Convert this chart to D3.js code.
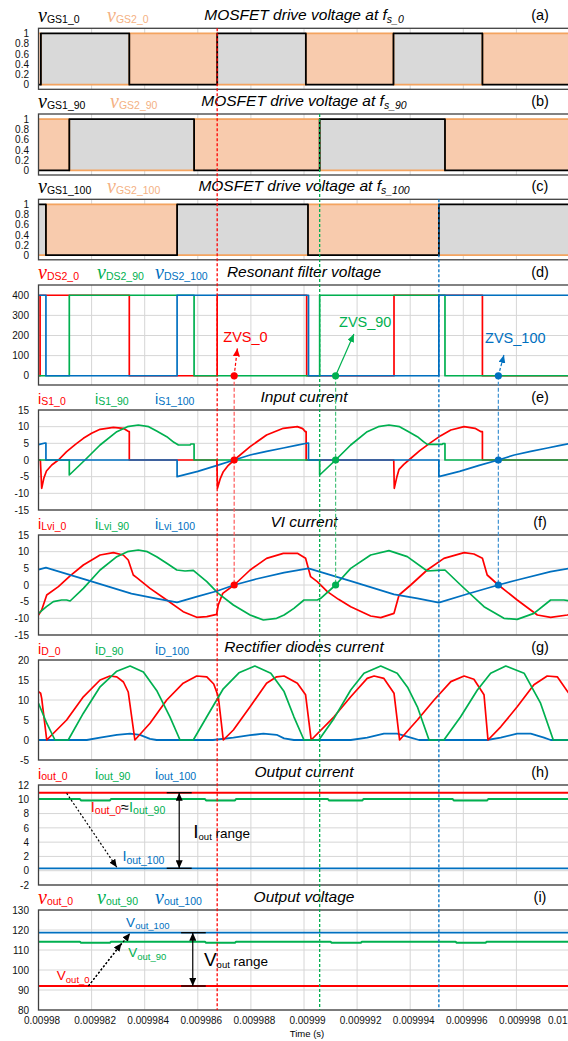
<!DOCTYPE html>
<html>
<head>
<meta charset="utf-8">
<script src="https://cdn.jsdelivr.net/npm/d3@7"></script>
<style>
  html, body { margin: 0; padding: 0; background: #fff; }
  svg { display: block; font-family: "Liberation Sans", Arial, sans-serif; }
</style>
</head>
<body>
<svg id="chart" width="568" height="1041"></svg>
<script>
// ---- time axis: microseconds after t = 0.00998 s ----
const xTicks = [0, 2, 4, 6, 8, 10, 12, 14, 16, 18, 20];
const xTickLabels = ["0.00998", "0.009982", "0.009984", "0.009986", "0.009988", "0.00999",
                     "0.009992", "0.009994", "0.009996", "0.009998", "0.01"];

// ---- y tick values per panel ----
const gateTicks = [0, 0.2, 0.4, 0.6, 0.8, 1];
const vdsTicks = [0, 100, 200, 300, 400];
const currentTicks = [-15, -10, -5, 0, 5, 10, 15];
const diodeTicks = [-5, 0, 5, 10, 15, 20];
const ioutTicks = [-2, 0, 2, 4, 6, 8, 10, 12];
const voutTicks = [80, 90, 100, 110, 120, 130];

// ---- (a)-(c) gate drive signals [t(us), V] ----
const vGS1_0 = [[0,0],[0.09,0],[0.09,1],[3.42,1],[3.42,0],[6.73,0],[6.73,1],[10.07,1],[10.07,0],[13.37,0],[13.37,1],[16.72,1],[16.72,0],[20,0]];
const vGS2_0 = [[0,1],[0.09,1],[0.09,0],[3.42,0],[3.42,1],[6.73,1],[6.73,0],[10.07,0],[10.07,1],[13.37,1],[13.37,0],[16.72,0],[16.72,1],[20,1]];
const vGS1_90 = [[0,0],[1.16,0],[1.16,1],[5.86,1],[5.86,0],[10.59,0],[10.59,1],[15.31,1],[15.31,0],[20,0]];
const vGS2_90 = [[0,1],[1.16,1],[1.16,0],[5.86,0],[5.86,1],[10.59,1],[10.59,0],[15.31,0],[15.31,1],[20,1]];
const vGS1_100 = [[0,1],[0.28,1],[0.28,0],[5.22,0],[5.22,1],[10.15,1],[10.15,0],[15.08,0],[15.08,1],[20,1]];
const vGS2_100 = [[0,0],[0.28,0],[0.28,1],[5.22,1],[5.22,0],[10.15,0],[10.15,1],[15.08,1],[15.08,0],[20,0]];

// ---- (d) resonant filter voltage ----
const vDS2_0 = [[0,0],[0.06,0],[0.06,400],[3.42,400],[3.42,0],[6.73,0],[6.73,400],[10.1,400],[10.1,0],[13.39,0],[13.39,400],[16.72,400],[16.72,0],[20,0]];
const vDS2_90 = [[0,0],[1.16,0],[1.16,400],[5.86,400],[5.86,0],[10.59,0],[10.59,400],[15.31,400],[15.31,0],[20,0]];
const vDS2_100 = [[0,400],[0.28,400],[0.28,0],[5.22,0],[5.22,400],[10.17,400],[10.17,0],[15.08,0],[15.08,400],[20,400]];

// ---- (e) input current ----
const iS1_0 = [[0,0],[0.07,0],[0.12,-8.5],[0.2,-5.5],[0.3,-3.3],[0.5,-1.5],[0.75,0],[1.06,2.5],[1.38,4.6],[1.69,6.5],[2.0,8.0],[2.32,9.2],[2.82,9.8],[3.19,9.5],[3.38,8.6],[3.42,8.5],[3.42,0],
  [6.72,0],[6.74,-8.5],[6.85,-5.5],[6.96,-3.5],[7.15,-1.6],[7.37,0],[7.97,4],[8.59,7.5],[9.22,9.5],[9.75,10],[9.95,9.4],[10.05,8.5],[10.08,8.5],[10.08,0],
  [13.38,0],[13.4,-8.5],[13.5,-5],[13.58,-2.8],[13.76,-1.3],[13.95,0],[14.36,2.8],[14.77,5.2],[15.15,7.3],[15.53,9],[16.03,10],[16.44,9.5],[16.67,8.5],[16.72,8.5],[16.72,0],[20,0]];
const iS1_90 = [[0,0],[1.16,0],[1.16,-4.5],[1.75,0],[2.32,4.5],[2.95,8.5],[3.35,10],[3.76,10.5],[4.15,10],[4.45,8.7],[4.83,7],[5.1,5.3],[5.27,4.5],[5.71,4.5],[5.74,4.8],[5.86,4.8],[5.86,0],
  [10.59,0],[10.59,-4.5],[11.19,0],[11.76,4.5],[12.38,8.5],[12.8,10],[13.2,10.5],[13.6,10],[13.89,8.7],[14.27,7],[14.5,5.5],[14.64,4.7],[15.2,4.7],[15.23,4.9],[15.31,4.9],[15.31,0],[20,0]];
const iS1_100 = [[0,4.6],[0.25,5.1],[0.28,5.1],[0.28,0],[5.22,0],[5.22,-5],[6.0,-3.4],[6.73,-1.6],[7.37,0],[7.97,1.5],[8.59,2.6],[9.22,3.6],[9.7,4.4],[10.15,5.1],[10.17,5.1],[10.17,0],
  [15.08,0],[15.08,-5],[15.86,-3.4],[16.6,-1.6],[17.32,0],[17.92,1.5],[18.54,2.6],[19.17,3.6],[19.65,4.4],[20,4.9]];

// ---- (f) VI current ----
const iLvi_0 = [[0,-9],[0.12,-7.5],[0.31,-3],[0.75,-0.5],[1.2,2.8],[1.69,6],[2.32,9],[2.82,9.7],[3.19,9],[3.38,7.5],[3.57,3],[3.7,2.2],[4.2,-1],[4.83,-4.5],[5.45,-8],[5.96,-9.7],[6.34,-9.5],[6.71,-8.8],[6.77,-6],[6.94,-2.5],
  [7.37,0],[7.97,4.5],[8.59,8],[9.22,9.5],[9.75,9.5],[10.06,8],[10.25,2.5],[10.5,1],[10.88,-2],[11.3,-4.3],[11.76,-6.5],[12.51,-9.3],[12.89,-9.8],[13.39,-8.5],[13.58,-3],
  [14.02,0],[14.64,4.5],[15.27,8],[16.03,9.7],[16.4,9.3],[16.72,8],[16.9,3],[17.32,0],[18.03,-4.5],[18.79,-9],[19.29,-9.7],[19.92,-9],[20,-8.8]];
const iLvi_90 = [[0,-8.5],[0.3,-6.5],[0.56,-5],[0.87,-4.5],[1.06,-4.5],[1.19,-4.8],[1.69,-1],[2.32,4.5],[2.95,8.5],[3.35,10],[3.76,10.5],[4.1,10],[4.45,8.5],[4.83,6.5],[5.21,4.5],[5.52,4.2],[5.83,4.4],
  [6.34,1],[6.77,-2.5],[7.34,-6],[7.97,-9],[8.47,-10.5],[8.97,-10],[9.25,-9],[9.62,-7],[10.0,-4.5],[10.5,-4.5],[10.63,-4],[11.19,0],[11.76,5],[12.51,9],[13.2,10.3],[13.89,8.5],
  [14.64,4.2],[15.0,4.4],[15.31,4.5],[15.9,0],[16.78,-6.5],[17.53,-10],[18.03,-10.3],[18.66,-8.5],[19.29,-4.5],[19.79,-4.5],[20,-4.8]];
const iLvi_100 = [[0,4.6],[0.28,5.2],[1.9,1.3],[3.5,-2.6],[4.4,-4.0],[5.22,-5.2],[6.0,-3.4],[6.73,-1.8],[7.37,0],[8.2,1.8],[9.25,3.7],[10.17,5.0],
  [11.8,1.1],[13.39,-2.8],[14.27,-4.0],[15.08,-5.3],[16.15,-2.7],[17.32,0],[18.03,1.5],[19.29,4.0],[20,5.0]];

// ---- (g) rectifier diode currents ----
const iD_0 = [[0,12.1],[0.08,11.7],[0.12,10.4],[0.31,0],[1.06,5],[1.69,10.8],[2.32,15],[2.69,16],[2.95,15.8],[3.2,14.5],[3.38,12],[3.63,0],[4.2,4.2],[4.83,10],[5.45,14.2],[5.96,16],[6.34,15.8],[6.6,14],[6.71,12],[6.77,11],
  [6.96,0],[7.34,2.5],[7.97,8.3],[8.59,14.2],[8.97,15.8],[9.25,16],[9.75,14.2],[10.06,11.3],[10.27,0],[11.13,5.8],[11.76,10.8],[12.38,15.4],[12.64,16],[13.01,15.4],[13.39,11.7],
  [13.6,0],[14.27,5],[14.9,10],[15.53,14.6],[16.03,16],[16.4,15.2],[16.78,11.3],[16.93,0],[17.41,3.3],[18.03,8.3],[18.66,13.8],[19.16,16],[19.54,15.8],[19.94,12],[20,11.5]];
const iD_90 = [[0,9.2],[0.31,4.2],[0.62,0],[1.12,0],[1.69,6.7],[2.32,13.3],[2.95,17.2],[3.45,18.5],[3.95,17],[4.45,12.4],[4.95,5.8],[5.33,0],
  [5.83,0],[6.4,6.5],[6.96,12.8],[7.55,16.8],[8.15,18.5],[8.75,16.7],[9.25,12.1],[9.62,5.8],[10.0,0],
  [10.56,0],[11.13,5.4],[11.76,12.5],[12.26,16.7],[12.89,18.5],[13.51,16.7],[13.9,13.2],[14.27,8.3],[14.71,0],
  [15.27,0],[15.9,5.8],[16.53,12.5],[17.03,16.7],[17.6,18.5],[18.29,16.7],[18.91,9.2],[19.39,0],[20,0]];
const iD_100 = [[0,0],[1.82,0],[2.32,0.6],[2.95,1.3],[3.45,1.6],[3.82,1.3],[4.2,0.3],[4.45,0],[6.57,0],[7.34,0.6],[7.97,1.2],[8.47,1.6],[8.97,1.3],[9.25,0.4],[9.62,0],
  [11.76,0],[12.38,0.6],[13.01,1.6],[13.51,1.6],[14.02,0.6],[14.33,0],[16.9,0],[17.41,0.6],[18.03,1.6],[18.54,1.6],[19.04,0.6],[19.29,0],[20,0]];

// ---- (h) output current ----
const iout_0 = [[0,10.92],[20,10.92]];
const iout_90 = [[0,10.04],[1.56,10.04],[1.6,9.84],[2.69,9.84],[2.73,10.04],[6.27,10.04],[6.31,9.84],[7.4,9.84],[7.44,10.04],[10.9,10.04],[10.94,9.84],[12.2,9.84],[12.24,10.04],
  [15.6,10.04],[15.64,9.84],[16.9,9.84],[16.94,10.04],[20,10.04]];
const iout_100 = [[0,0.34],[20,0.34]];

// ---- (i) output voltage ----
const vout_0 = [[0,92],[20,92]];
const vout_90 = [[0,114.15],[1.56,114.15],[1.6,113.65],[2.69,113.65],[2.73,114.15],[6.27,114.15],[6.31,113.65],[7.4,113.65],[7.44,114.15],[11.0,114.15],[11.04,113.65],[12.14,113.65],[12.18,114.15],
  [15.71,114.15],[15.75,113.65],[16.84,113.65],[16.88,114.15],[20,114.15]];
const vout_100 = [[0,118.65],[20,118.65]];

// ---- switching instants and ZVS points ----
const switchRef = { t0: 6.73, t90: 10.59, t100: 15.08 };
const zvsTimes = { zvs0: 7.37, zvs90: 11.19, zvs100: 17.32 };

// ---------------------------------------------------------------
const RED = "#ff0000", GREEN = "#00b050", BLUE = "#0070c0";
const ORANGE_TXT = "#f4b183", ORANGE_FILL = "#f8cbad", ORANGE_LINE = "#f4a460", GRAY_FILL = "#d9d9d9";
const SERIF = "'Liberation Serif','Times New Roman',serif";

const svg = d3.select("#chart");
const X0 = 38.5, X1 = 569.5;
const x = d3.scaleLinear().domain([0, 20]).range([X0, X1]);

const panels = {
  a: { top: 28.3, h: 61,   dom: [-0.09, 1.1], ticks: gateTicks },
  b: { top: 114,  h: 61,   dom: [-0.09, 1.1], ticks: gateTicks },
  c: { top: 199.3, h: 60.5, dom: [-0.09, 1.1], ticks: gateTicks },
  d: { top: 285,  h: 100,  dom: [-46, 451],   ticks: vdsTicks },
  e: { top: 410,  h: 100,  dom: [-15, 15],    ticks: currentTicks },
  f: { top: 535,  h: 100,  dom: [-15, 15],    ticks: currentTicks },
  g: { top: 660,  h: 100,  dom: [-5, 20],     ticks: diodeTicks },
  h: { top: 785,  h: 100,  dom: [-2, 12],     ticks: ioutTicks },
  i: { top: 910,  h: 100,  dom: [80, 130],    ticks: voutTicks }
};
Object.values(panels).forEach(p => {
  p.y = d3.scaleLinear().domain(p.dom).range([p.top + p.h, p.top]);
});

const defs = svg.append("defs");
function arrowMarker(id, color, len, wid) {
  defs.append("marker").attr("id", id)
    .attr("viewBox", "0 0 10 10").attr("refX", 10).attr("refY", 5)
    .attr("markerWidth", len).attr("markerHeight", wid)
    .attr("markerUnits", "userSpaceOnUse")
    .attr("orient", "auto-start-reverse")
    .attr("preserveAspectRatio", "none")
    .append("path").attr("d", "M0,0L10,5L0,10z").attr("fill", color);
}
arrowMarker("ah-black", "#000", 8, 7);
arrowMarker("ah-red", RED, 8, 7);
arrowMarker("ah-green", GREEN, 8, 7);
arrowMarker("ah-blue", BLUE, 8, 7);

// rich text with sub-scripts
function richText(parent, px, py, parts, opts = {}) {
  const t = parent.append("text").attr("x", px).attr("y", py)
    .attr("text-anchor", opts.anchor || "start");
  if (opts.italic) t.attr("font-style", "italic");
  parts.forEach(p => {
    const s = t.append("tspan").text(p.text).attr("font-size", p.size);
    if (p.fill) s.attr("fill", p.fill);
    if (p.dy) s.attr("dy", p.dy);
    if (p.serif) s.attr("font-family", SERIF).attr("font-style", "italic");
  });
  return t;
}

// legend / title definitions
const vItem = (px, sub, color) => ({ px, parts: [{ text: "v", size: 20, serif: true, fill: color }, { text: sub, size: 10.5, dy: 1.2, fill: color }] });
const iItem = (px, sub, color) => ({ px, parts: [{ text: "i", size: 14.5, fill: color }, { text: sub, size: 10.5, dy: 1.2, fill: color }] });

const headers = {
  a: { legend: [vItem(38, "GS1_0", "#000"), vItem(107, "GS2_0", ORANGE_TXT)], title: [{ text: "MOSFET drive voltage at f", size: 15.5 }, { text: "s_0", size: 10.5, dy: 3 }] },
  b: { legend: [vItem(38, "GS1_90", "#000"), vItem(110, "GS2_90", ORANGE_TXT)], title: [{ text: "MOSFET drive voltage at f", size: 15.5 }, { text: "s_90", size: 10.5, dy: 3 }] },
  c: { legend: [vItem(38, "GS1_100", "#000"), vItem(107, "GS2_100", ORANGE_TXT)], title: [{ text: "MOSFET drive voltage at f", size: 15.5 }, { text: "s_100", size: 10.5, dy: 3 }] },
  d: { legend: [vItem(38, "DS2_0", RED), vItem(97, "DS2_90", GREEN), vItem(155, "DS2_100", BLUE)], title: [{ text: "Resonant filter voltage", size: 15.5 }] },
  e: { legend: [iItem(38, "S1_0", RED), iItem(95, "S1_90", GREEN), iItem(155, "S1_100", BLUE)], title: [{ text: "Input current", size: 15.5 }] },
  f: { legend: [iItem(38, "Lvi_0", RED), iItem(95, "Lvi_90", GREEN), iItem(155, "Lvi_100", BLUE)], title: [{ text: "VI current", size: 15.5 }] },
  g: { legend: [iItem(38, "D_0", RED), iItem(95, "D_90", GREEN), iItem(155, "D_100", BLUE)], title: [{ text: "Rectifier diodes current", size: 15.5 }] },
  h: { legend: [iItem(38, "out_0", RED), iItem(95, "out_90", GREEN), iItem(155, "out_100", BLUE)], title: [{ text: "Output current", size: 15.5 }] },
  i: { legend: [vItem(38, "out_0", RED), vItem(97, "out_90", GREEN), vItem(155, "out_100", BLUE)], title: [{ text: "Output voltage", size: 15.5 }] }
};

// ---- frames, grids, axes, headers ----
Object.entries(panels).forEach(([key, p]) => {
  const g = svg.append("g").attr("class", "panel-" + key);
  p.g = g;
  defs.append("clipPath").attr("id", "clip-" + key)
    .append("rect").attr("x", X0).attr("y", p.top).attr("width", X1 - X0).attr("height", p.h);

  const grid = g.append("g").attr("stroke", "#d6d6d6").attr("stroke-width", 1);
  xTicks.forEach(t => grid.append("line").attr("x1", x(t)).attr("x2", x(t)).attr("y1", p.top).attr("y2", p.top + p.h));
  p.ticks.forEach(v => grid.append("line").attr("x1", X0).attr("x2", X1).attr("y1", p.y(v)).attr("y2", p.y(v)));

  p.plot = g.append("g").attr("clip-path", `url(#clip-${key})`);

  const ax = g.append("g").attr("transform", `translate(${X0},0)`)
    .call(d3.axisLeft(p.y).tickValues(p.ticks).tickSize(0).tickPadding(9.5)
      .tickFormat(d => String(+d.toFixed(1))));
  ax.select(".domain").remove();
  ax.selectAll("text").attr("font-size", 10).attr("fill", "#111")
    .attr("font-family", "'Liberation Sans', Arial, sans-serif");

  const h = headers[key];
  h.legend.forEach(it => richText(g, it.px, p.top - 6.5, it.parts));
  richText(g, 304, p.top - 8, h.title, { anchor: "middle", italic: true });
  g.append("text").attr("x", 540).attr("y", p.top - 8).attr("text-anchor", "middle")
    .attr("font-size", 14.5).text("(" + key + ")");
});

// ---- series drawing ----
function drawLine(p, data, color, width) {
  p.plot.append("path").datum(data)
    .attr("fill", "none").attr("stroke", color).attr("stroke-width", width)
    .attr("stroke-linejoin", "round")
    .attr("d", d3.line().x(d => x(d[0])).y(d => p.y(d[1])));
}
function drawGate(p, s1, s2) {
  const area = d3.area().x(d => x(d[0])).y0(p.y(0)).y1(d => p.y(d[1]));
  p.plot.append("path").datum(s1).attr("fill", GRAY_FILL).attr("d", area);
  p.plot.append("path").datum(s2).attr("fill", ORANGE_FILL).attr("d", area);
  drawLine(p, s2, ORANGE_LINE, 1.8);
  drawLine(p, s1, "#000", 1.8);
}
drawGate(panels.a, vGS1_0, vGS2_0);
drawGate(panels.b, vGS1_90, vGS2_90);
drawGate(panels.c, vGS1_100, vGS2_100);

drawLine(panels.d, vDS2_0, RED, 1.7);
drawLine(panels.d, vDS2_90, GREEN, 1.7);
drawLine(panels.d, vDS2_100, BLUE, 1.7);

drawLine(panels.e, iS1_0, RED, 1.7);
drawLine(panels.e, iS1_90, GREEN, 1.7);
drawLine(panels.e, iS1_100, BLUE, 1.7);

drawLine(panels.f, iLvi_0, RED, 1.7);
drawLine(panels.f, iLvi_90, GREEN, 1.7);
drawLine(panels.f, iLvi_100, BLUE, 1.7);

drawLine(panels.g, iD_100, BLUE, 1.8);
drawLine(panels.g, iD_0, RED, 1.7);
drawLine(panels.g, iD_90, GREEN, 1.7);

drawLine(panels.h, iout_0, RED, 2);
drawLine(panels.h, iout_90, GREEN, 2);
drawLine(panels.h, iout_100, BLUE, 1.8);

drawLine(panels.i, vout_0, RED, 2);
drawLine(panels.i, vout_90, GREEN, 2);
drawLine(panels.i, vout_100, BLUE, 1.8);

// ---- panel frames on top of data ----
Object.values(panels).forEach(p => {
  p.g.append("rect").attr("x", X0).attr("y", p.top).attr("width", X1 - X0).attr("height", p.h)
    .attr("fill", "none").attr("stroke", "#404040").attr("stroke-width", 1.3);
});

// ---- x axis under panel (i) ----
const LABEL_SHIFT = 3;
const xAx = svg.append("g").attr("transform", `translate(${LABEL_SHIFT},${panels.i.top + panels.i.h})`)
  .call(d3.axisBottom(x).tickValues(xTicks).tickSize(0).tickPadding(6.5)
    .tickFormat((d, k) => xTickLabels[k]));
xAx.select(".domain").remove();
xAx.selectAll("text").attr("font-size", 10).attr("fill", "#111")
  .attr("font-family", "'Liberation Sans', Arial, sans-serif");
// keep the last label inside the page edge
xAx.selectAll(".tick").filter(d => d === xTicks[xTicks.length - 1]).select("text")
  .attr("text-anchor", "end").attr("x", 567 - (x(xTicks[xTicks.length - 1]) + LABEL_SHIFT));
svg.append("text").attr("x", 307).attr("y", 1037).attr("text-anchor", "middle")
  .attr("font-size", 9.5).text("Time (s)");

// ---- switching reference lines ----
const ann = svg.append("g");
const bottomY = panels.i.top + panels.i.h;
[[switchRef.t0, panels.a.top, RED], [switchRef.t90, panels.b.top, GREEN], [switchRef.t100, panels.c.top, BLUE]]
  .forEach(([t, y0, c]) => {
    ann.append("line").attr("x1", x(t)).attr("x2", x(t)).attr("y1", y0).attr("y2", bottomY)
      .attr("stroke", c).attr("stroke-width", 1.3).attr("stroke-dasharray", "3,2");
  });

// ---- ZVS markers ----
const zvs = [
  { t: zvsTimes.zvs0, color: RED, light: "#ff5a5a", marker: "ah-red", tip: [7.49, 136], label: [6.96, 166], text: "ZVS_0", dash: "3,2" },
  { t: zvsTimes.zvs90, color: GREEN, light: "#49c27d", marker: "ah-green", tip: [11.88, 207], label: [11.32, 244], text: "ZVS_90", dash: null },
  { t: zvsTimes.zvs100, color: BLUE, light: "#3f92d2", marker: "ah-blue", tip: [17.53, 103], label: [16.82, 161], text: "ZVS_100", dash: "3,2" }
];
zvs.forEach(z => {
  const pd = panels.d, pe = panels.e, pf = panels.f;
  ann.append("line").attr("x1", x(z.t)).attr("x2", x(z.t))
    .attr("y1", pd.y(0)).attr("y2", pf.y(0))
    .attr("stroke", z.light).attr("stroke-width", 1.2).attr("stroke-dasharray", "4,2");
  const arr = ann.append("line").attr("x1", x(z.t)).attr("y1", pd.y(0))
    .attr("x2", x(z.tip[0])).attr("y2", pd.y(z.tip[1]))
    .attr("stroke", z.color).attr("stroke-width", 1.2).attr("marker-end", `url(#${z.marker})`);
  if (z.dash) arr.attr("stroke-dasharray", z.dash);
  [pd, pe, pf].forEach(p => ann.append("circle").attr("cx", x(z.t)).attr("cy", p.y(0)).attr("r", 3.6).attr("fill", z.color));
  ann.append("text").attr("x", x(z.label[0])).attr("y", pd.y(z.label[1]))
    .attr("font-size", 14.5).attr("fill", z.color).text(z.text);
});

// ---- output current annotations ----
const ph = panels.h;
ann.append("line").attr("x1", x(1.06)).attr("y1", ph.y(10.84)).attr("x2", x(2.95)).attr("y2", ph.y(0.48))
  .attr("stroke", "#000").attr("stroke-width", 1.2).attr("stroke-dasharray", "2,2").attr("marker-end", "url(#ah-black)");
ann.append("line").attr("x1", x(5.30)).attr("x2", x(5.30)).attr("y1", ph.y(10.92)).attr("y2", ph.y(0.34))
  .attr("stroke", "#000").attr("stroke-width", 1.2)
  .attr("marker-start", "url(#ah-black)").attr("marker-end", "url(#ah-black)");
[10.92, 0.34].forEach(v => ann.append("line").attr("x1", x(4.83)).attr("x2", x(5.77))
  .attr("y1", ph.y(v)).attr("y2", ph.y(v)).attr("stroke", "#000").attr("stroke-width", 1.3));
richText(ann, x(1.97), ph.y(8.26), [
  { text: "I", size: 14.5, fill: RED }, { text: "out_0", size: 10.5, dy: 2.5, fill: RED },
  { text: "≈", size: 14.5, dy: -2.5, fill: "#000" },
  { text: "I", size: 14.5, fill: GREEN }, { text: "out_90", size: 10.5, dy: 2.5, fill: GREEN }
]);
richText(ann, x(3.16), ph.y(1.36), [
  { text: "I", size: 14.5, fill: BLUE }, { text: "out_100", size: 10.5, dy: 2.5, fill: BLUE }
]);
richText(ann, x(5.83), ph.y(4.54), [
  { text: "I", size: 19, fill: "#000" }, { text: "out", size: 9.5, dy: 2, fill: "#000" },
  { text: " range", size: 13.5, dy: -2, fill: "#000" }
]);

// ---- output voltage annotations ----
const pi = panels.i;
ann.append("line").attr("x1", x(1.88)).attr("y1", pi.y(92)).attr("x2", x(3.13)).attr("y2", pi.y(113.4))
  .attr("stroke", "#000").attr("stroke-width", 1.2).attr("stroke-dasharray", "2,2").attr("marker-end", "url(#ah-black)");
ann.append("line").attr("x1", x(1.88)).attr("y1", pi.y(92)).attr("x2", x(3.45)).attr("y2", pi.y(118.4))
  .attr("stroke", "#000").attr("stroke-width", 1.2).attr("stroke-dasharray", "2,2").attr("marker-end", "url(#ah-black)");
ann.append("line").attr("x1", x(5.81)).attr("x2", x(5.81)).attr("y1", pi.y(118.65)).attr("y2", pi.y(92))
  .attr("stroke", "#000").attr("stroke-width", 1.2)
  .attr("marker-start", "url(#ah-black)").attr("marker-end", "url(#ah-black)");
[118.65, 92].forEach(v => ann.append("line").attr("x1", x(5.37)).attr("x2", x(6.3))
  .attr("y1", pi.y(v)).attr("y2", pi.y(v)).attr("stroke", "#000").attr("stroke-width", 1.3));
richText(ann, x(3.30), pi.y(121.65), [
  { text: "V", size: 13.5, fill: BLUE }, { text: "out_100", size: 9.5, dy: 2.5, fill: BLUE }
]);
richText(ann, x(3.38), pi.y(106.35), [
  { text: "V", size: 13.5, fill: GREEN }, { text: "out_90", size: 9.5, dy: 2.5, fill: GREEN }
]);
richText(ann, x(0.69), pi.y(95), [
  { text: "V", size: 13.5, fill: RED }, { text: "out_0", size: 9.5, dy: 2.5, fill: RED }
]);
richText(ann, x(6.23), pi.y(102), [
  { text: "V", size: 19, fill: "#000" }, { text: "out", size: 9.5, dy: 2, fill: "#000" },
  { text: " range", size: 13.5, dy: -2, fill: "#000" }
]);
</script>
</body>
</html>
